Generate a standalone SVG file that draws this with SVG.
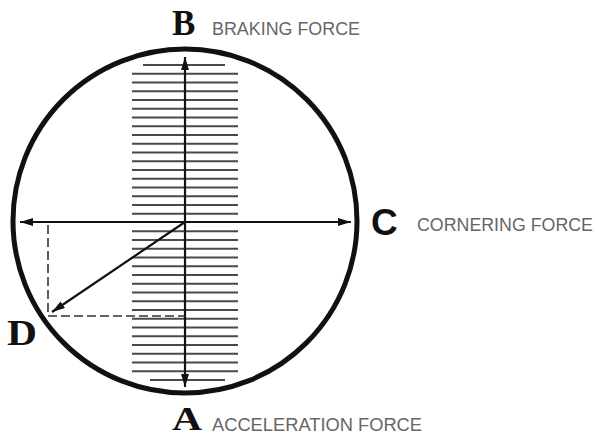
<svg xmlns="http://www.w3.org/2000/svg" width="595" height="438" viewBox="0 0 595 438">
<style>
.ring{fill:none;stroke:#111;stroke-width:5}
.hatch{fill:none;stroke:#4a4a4a;stroke-width:1.8}
.arrow{fill:none;stroke:#111;stroke-width:2.2}
.dash{fill:none;stroke:#333;stroke-width:1.6;stroke-dasharray:9 4}
.big{font-family:"Liberation Serif","DejaVu Serif",serif;font-weight:bold;fill:#111}
.bigsans{font-family:"Liberation Sans","DejaVu Sans",sans-serif;font-weight:bold;fill:#111}
.lbl{font-family:"Liberation Sans","DejaVu Sans",sans-serif;font-size:18px;fill:#666}
</style>
<defs>
<marker id="ah" viewBox="0 0 13 8" refX="13" refY="4" markerWidth="13" markerHeight="8" markerUnits="userSpaceOnUse" orient="auto-start-reverse">
<path d="M0,0 L13,4 L0,8 z" fill="#111"/>
</marker>
</defs>
<rect width="595" height="438" fill="#fff"/>
<g id="hatch-band">
<path class="hatch" d="M143,65H225 M132,73.75H238 M132,82.5H238 M132,91.25H238 M132,100H238 M132,108.75H238 M132,117.5H238 M132,126.25H238 M132,135H238 M132,143.75H238 M132,152.5H238 M132,161.25H238 M132,170H238 M132,178.75H238 M132,187.5H238 M132,196.25H238 M132,205H238 M132,213.75H238 M132,231.25H238 M132,240H238 M132,248.75H238 M132,257.5H238 M132,266.25H238 M132,275H238 M132,283.75H238 M132,292.5H238 M132,301.25H238 M132,310H238 M132,318.75H238 M132,327.5H238 M132,336.25H238 M132,345H238 M132,353.75H238 M132,362.5H238 M132,371.25H238 M150,380H225"/>
</g>
<g id="friction-circle">
<circle class="ring" cx="185" cy="221" r="172"/>
</g>
<g id="connectors">
<line class="arrow" x1="185" y1="222" x2="185" y2="57" marker-end="url(#ah)"/>
<line class="arrow" x1="185" y1="222" x2="185" y2="387" marker-end="url(#ah)"/>
<line class="arrow" x1="185" y1="222" x2="20" y2="222" marker-end="url(#ah)"/>
<line class="arrow" x1="185" y1="222" x2="351" y2="222" marker-end="url(#ah)"/>
<line class="arrow" x1="185" y1="222" x2="52" y2="312" marker-end="url(#ah)"/>
<path class="dash" d="M48,225 V316 H185"/>
</g>
<g id="node-B">
<text class="big" x="172" y="35" font-size="35">B</text>
<text class="lbl" x="212" y="35" textLength="148" lengthAdjust="spacingAndGlyphs">BRAKING FORCE</text>
</g>
<g id="node-C">
<text class="bigsans" x="371" y="235" font-size="37">C</text>
<text class="lbl" x="417" y="231" textLength="176" lengthAdjust="spacingAndGlyphs">CORNERING FORCE</text>
</g>
<g id="node-A">
<text class="big" x="172" y="430" font-size="34" textLength="30" lengthAdjust="spacingAndGlyphs">A</text>
<text class="lbl" x="212" y="431" textLength="210" lengthAdjust="spacingAndGlyphs">ACCELERATION FORCE</text>
</g>
<g id="node-D">
<text class="big" x="7" y="345" font-size="35" textLength="30" lengthAdjust="spacingAndGlyphs">D</text>
</g>
</svg>
